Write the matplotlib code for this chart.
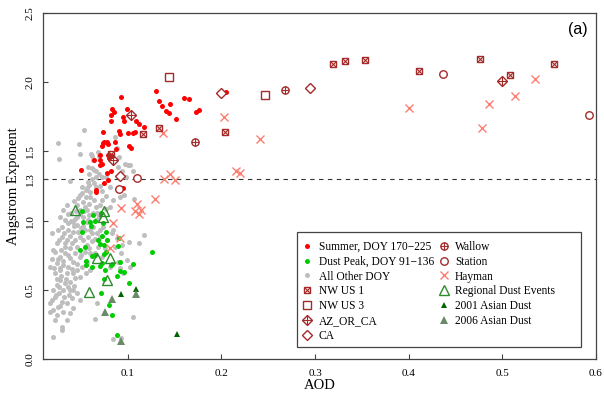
import matplotlib
matplotlib.use("Agg")
import matplotlib.pyplot as plt
from matplotlib.lines import Line2D
from matplotlib.patches import Rectangle

plt.rcParams['font.family'] = ['Liberation Serif', 'DejaVu Serif']

# --- data (AOD, Angstrom exponent) ---
summer_aod = [0.0925, 0.130, 0.1333, 0.1362, 0.1448, 0.1405, 0.144, 0.1515, 0.1597, 0.1657,
              0.1725, 0.1764, 0.0833, 0.0822, 0.0847, 0.0819, 0.0989, 0.0947, 0.0957, 0.1082,
              0.112, 0.117, 0.0737, 0.0901, 0.0918, 0.0997, 0.1053, 0.0865, 0.1014, 0.1039,
              0.0733, 0.0747, 0.0776, 0.079, 0.072, 0.0872, 0.0698, 0.0641, 0.0705, 0.0783,
              0.0801, 0.0833, 0.0726, 0.0701, 0.0773, 0.0822, 0.0499, 0.079, 0.0747, 0.0656,
              0.0662, 0.095, 0.2052, 0.1081]
summer_ae = [1.895, 1.939, 1.866, 1.830, 1.840, 1.792, 1.775, 1.732, 1.886, 1.879,
             1.782, 1.799, 1.809, 1.761, 1.785, 1.717, 1.806, 1.749, 1.717, 1.717,
             1.700, 1.674, 1.640, 1.650, 1.626, 1.631, 1.631, 1.568, 1.539, 1.527,
             1.563, 1.568, 1.568, 1.551, 1.541, 1.515, 1.476, 1.440, 1.436, 1.472,
             1.455, 1.465, 1.411, 1.400, 1.342, 1.358, 1.368, 1.296, 1.269, 1.221,
             1.209, 1.233, 1.927, 1.640]

dust_aod = [0.0513, 0.0627, 0.0712, 0.0595, 0.0517, 0.0609, 0.0651, 0.073, 0.0762, 0.0513,
            0.0726, 0.0773, 0.0677, 0.0701, 0.0747, 0.0901, 0.0893, 0.0545, 0.0485, 0.0769,
            0.0747, 0.0619, 0.0648, 0.0555, 0.0552, 0.0616, 0.0698, 0.0726, 0.0819, 0.0829,
            0.0912, 0.1053, 0.0755, 0.0912, 0.0954, 0.0883, 0.0744, 0.1011, 0.0715, 0.1263,
            0.0794, 0.0826, 0.0880]
dust_ae = [1.069, 1.040, 1.057, 0.990, 0.988, 0.961, 0.997, 0.980, 0.920, 0.915,
           0.887, 0.858, 0.862, 0.831, 0.821, 0.877, 0.819, 0.807, 0.788, 0.771,
           0.761, 0.747, 0.754, 0.710, 0.679, 0.662, 0.672, 0.691, 0.679, 0.689,
           0.701, 0.689, 0.643, 0.636, 0.626, 0.600, 0.576, 0.547, 0.477, 0.773,
           0.388, 0.318, 0.176]

other_aod = [0.0257, 0.0268, 0.0478, 0.0534, 0.0492, 0.0602, 0.0613, 0.0627, 0.0687, 0.0677,
             0.0570, 0.0620, 0.0641, 0.0584, 0.0687, 0.0662, 0.0662, 0.0719, 0.0381, 0.0513,
             0.0577, 0.0566, 0.0641, 0.0698, 0.0719, 0.0765, 0.0897, 0.0911, 0.0858, 0.0879,
             0.1000, 0.1028, 0.0968, 0.0943, 0.1057, 0.0979, 0.0808, 0.0879, 0.0915, 0.0964,
             0.1071, 0.0844, 0.0765, 0.0726, 0.0808, 0.0701, 0.0769, 0.0659, 0.0634, 0.0595,
             0.0552, 0.0488, 0.0524, 0.0453, 0.0488, 0.0542, 0.0584, 0.0566, 0.0623, 0.0666,
             0.0691, 0.0655, 0.0577, 0.0524, 0.0453, 0.0392, 0.0346, 0.0310, 0.0275, 0.0328,
             0.0363, 0.0417, 0.0453, 0.0499, 0.0542, 0.0595, 0.0630, 0.0666, 0.0701, 0.0737,
             0.0701, 0.0645, 0.0684, 0.0648, 0.0719, 0.0755, 0.0780, 0.0829, 0.0844, 0.0879,
             0.0861, 0.0943, 0.0932, 0.0897, 0.0915, 0.0986, 0.1011, 0.1171, 0.1121, 0.0193,
             0.0204, 0.0239, 0.0257, 0.0292, 0.0321, 0.0346, 0.0328, 0.0381, 0.0417, 0.0399,
             0.0453, 0.0488, 0.0524, 0.0566, 0.0542, 0.0595, 0.0488, 0.0435, 0.0381, 0.0328,
             0.0275, 0.0239, 0.0211, 0.0168, 0.0222, 0.0275, 0.0310, 0.0363, 0.0410, 0.0453,
             0.0506, 0.0559, 0.0595, 0.0552, 0.0488, 0.0435, 0.0381, 0.0328, 0.0275, 0.0239,
             0.0204, 0.0186, 0.0222, 0.0268, 0.0310, 0.0363, 0.0410, 0.0453, 0.0488, 0.0399,
             0.0346, 0.0292, 0.0257, 0.0204, 0.0168, 0.0247, 0.0310, 0.0381, 0.0346, 0.0292,
             0.0222, 0.0168, 0.0666, 0.0652, 0.0932, 0.0844, 0.1050, 0.0950, 0.1021, 0.0808,
             0.0417, 0.0204, 0.0292, 0.030, 0.036, 0.042, 0.027, 0.033, 0.038, 0.044,
             0.047, 0.029, 0.025, 0.031, 0.036, 0.041, 0.046, 0.035, 0.029, 0.024,
             0.040, 0.052, 0.056, 0.049, 0.044, 0.039, 0.036, 0.053, 0.058, 0.045,
             0.042, 0.047, 0.051, 0.055, 0.060, 0.062, 0.058, 0.066, 0.050, 0.055,
             0.058, 0.062, 0.062, 0.057, 0.028, 0.022, 0.019, 0.034, 0.038, 0.026,
             0.023, 0.032, 0.028, 0.037, 0.043]
other_ae = [1.563, 1.443, 1.551, 1.657, 1.481, 1.481, 1.469, 1.438, 1.469, 1.498,
            1.390, 1.382, 1.366, 1.339, 1.339, 1.358, 1.317, 1.317, 1.286, 1.245,
            1.281, 1.233, 1.269, 1.252, 1.214, 1.317, 1.390, 1.462, 1.606, 1.522,
            1.404, 1.404, 1.409, 1.361, 1.361, 1.317, 1.245, 1.226, 1.173, 1.185,
            1.156, 1.149, 1.178, 1.149, 1.101, 1.113, 1.084, 1.101, 1.149, 1.173,
            1.173, 1.185, 1.137, 1.113, 1.077, 1.101, 1.120, 1.077, 1.053, 1.053,
            1.024, 1.004, 1.004, 1.028, 1.028, 1.053, 1.113, 1.077, 1.028, 1.004,
            0.980, 0.987, 0.968, 0.947, 0.932, 0.932, 0.956, 0.908, 0.932, 0.956,
            0.884, 0.867, 0.812, 0.763, 0.739, 0.800, 0.860, 0.908, 0.932, 0.872,
            0.812, 0.824, 0.763, 0.703, 0.660, 0.715, 0.843, 0.896, 0.841, 0.913,
            0.788, 0.836, 0.932, 0.956, 0.908, 0.860, 0.812, 0.889, 0.920, 0.836,
            0.812, 0.879, 0.860, 0.824, 0.776, 0.763, 0.739, 0.763, 0.727, 0.763,
            0.739, 0.691, 0.655, 0.667, 0.619, 0.643, 0.679, 0.667, 0.619, 0.643,
            0.667, 0.691, 0.643, 0.619, 0.595, 0.583, 0.559, 0.547, 0.571, 0.535,
            0.499, 0.426, 0.450, 0.474, 0.499, 0.523, 0.499, 0.474, 0.426, 0.438,
            0.402, 0.414, 0.378, 0.354, 0.342, 0.318, 0.342, 0.330, 0.282, 0.210,
            0.282, 0.402, 0.402, 0.287, 0.149, 0.142, 0.306, 0.619, 0.667, 0.667,
            0.366, 0.161, 0.234, 0.88, 0.93, 0.96, 0.86, 0.84, 0.80, 0.86,
            0.92, 0.79, 0.72, 0.71, 0.75, 0.70, 0.69, 0.62, 0.60, 0.58,
            0.65, 0.96, 0.99, 1.05, 1.01, 1.00, 1.05, 1.07, 1.04, 1.07,
            1.14, 1.16, 1.20, 1.22, 1.21, 1.30, 1.26, 1.24, 0.75, 0.71,
            0.80, 0.85, 0.91, 0.88, 0.66, 0.77, 0.72, 0.58, 0.50, 0.52,
            0.46, 0.45, 0.38, 0.46, 0.53]

nwus1_aod = [0.3196, 0.3317, 0.353, 0.411, 0.476, 0.508, 0.5556, 0.2034, 0.1163, 0.1338, 0.0816]
nwus1_ae = [2.134, 2.151, 2.163, 2.079, 2.170, 2.050, 2.129, 1.640, 1.623, 1.671, 1.481]

nwus3_aod = [0.1437, 0.2464]
nwus3_ae = [2.035, 1.905]

azorca_aod = [0.1029, 0.5001, 0.0837]
azorca_ae = [1.765, 2.006, 1.438]

ca_aod = [0.0918, 0.1991, 0.2944]
ca_ae = [1.320, 1.920, 1.958]

wallow_aod = [0.1714, 0.2677]
wallow_ae = [1.566, 1.946]

station_aod = [0.1103, 0.0907, 0.4369, 0.5922]
station_ae = [1.310, 1.228, 2.057, 1.765]

hayman_aod = [0.1373, 0.1384, 0.1448, 0.1508, 0.1288, 0.1093, 0.1078, 0.1114, 0.1142, 0.0922,
              0.0837, 0.0918, 0.0808, 0.2027, 0.2407, 0.2159, 0.2194, 0.3999, 0.4781, 0.4859,
              0.5133, 0.5353]
hayman_ae = [1.631, 1.303, 1.334, 1.293, 1.154, 1.120, 1.069, 1.048, 1.077, 1.089,
             0.985, 0.872, 0.800, 1.751, 1.587, 1.361, 1.346, 1.814, 1.667, 1.842,
             1.898, 2.023]

regional_aod = [0.0435, 0.0747, 0.0733, 0.0666, 0.0808, 0.0773, 0.0587]
regional_ae = [1.077, 1.072, 1.024, 0.732, 0.732, 0.573, 0.482]

asian01_aod = [0.0925, 0.1089, 0.153]
asian01_ae = [0.467, 0.503, 0.178]

asian06_aod = [0.0829, 0.0752, 0.0925, 0.1089]
asian06_ae = [0.431, 0.340, 0.132, 0.470]

# colours
c_red = '#FF0000'
c_green = '#00CD00'
c_grey = '#BEBEBE'
c_brown = '#A52A2A'
c_salmon = '#FA8072'
c_regional = '#2E8B2E'
c_a01 = '#006400'
c_a06 = '#698B69'

fig = plt.figure(figsize=(6.04, 3.93), dpi=100)
ax = fig.add_axes([43 / 604, 34 / 393, 553 / 604, 346 / 393])

ax.axhline(1.3, color='#333333', lw=0.8, ls=(0, (4, 4)), zorder=1)

dot = dict(linestyle='none', marker='o', markersize=3.6, markeredgewidth=0)
ax.plot(other_aod, other_ae, color=c_grey, zorder=2, **dot)
ax.plot(dust_aod, dust_ae, color=c_green, zorder=3, **dot)
ax.plot(summer_aod, summer_ae, color=c_red, zorder=3, **dot)

ax.plot(hayman_aod, hayman_ae, ls='none', marker='x', ms=5.8, mew=1.0, color=c_salmon, zorder=4)
ax.plot(regional_aod, regional_ae, ls='none', marker='^', ms=6.5, mew=1.0, mfc='none', mec=c_regional, zorder=4)
ax.plot(asian01_aod, asian01_ae, ls='none', marker='^', ms=4.8, mew=0, color=c_a01, zorder=4)
ax.plot(asian06_aod, asian06_ae, ls='none', marker='^', ms=6.2, mew=0, color=c_a06, zorder=4)

# square with a cross inside
ax.plot(nwus1_aod, nwus1_ae, ls='none', marker='s', ms=4.8, mew=1.0, mfc='none', mec=c_brown, zorder=5)
ax.plot(nwus1_aod, nwus1_ae, ls='none', marker='x', ms=4.8, mew=0.8, color=c_brown, zorder=5)
ax.plot(nwus3_aod, nwus3_ae, ls='none', marker='s', ms=5.2, mew=1.0, mfc='white', mec=c_brown, zorder=5)
# diamond with a plus
ax.plot(azorca_aod, azorca_ae, ls='none', marker='D', ms=4.6, mew=1.0, mfc='none', mec=c_brown, zorder=5)
ax.plot(azorca_aod, azorca_ae, ls='none', marker='+', ms=7.0, mew=0.8, color=c_brown, zorder=5)
ax.plot(ca_aod, ca_ae, ls='none', marker='D', ms=4.6, mew=1.0, mfc='white', mec=c_brown, zorder=5)
# circle with a plus
ax.plot(wallow_aod, wallow_ae, ls='none', marker='o', ms=5.2, mew=1.0, mfc='white', mec=c_brown, zorder=5)
ax.plot(wallow_aod, wallow_ae, ls='none', marker='+', ms=5.2, mew=0.8, color=c_brown, zorder=5)
ax.plot(station_aod, station_ae, ls='none', marker='o', ms=5.4, mew=1.0, mfc='white', mec=c_brown, zorder=5)

ax.set_xlim(0.0094, 0.6)
ax.set_ylim(0, 2.5)
ax.set_xticks([0.1, 0.2, 0.3, 0.4, 0.5, 0.6])
ax.set_xticklabels(['0.1', '0.2', '0.3', '0.4', '0.5', '0.6'])
ax.set_yticks([0, 0.5, 1.0, 1.3, 1.5, 2.0, 2.5])
ax.set_yticklabels(['0.0', '0.5', '1.0', '1.3', '1.5', '2.0', '2.5'], rotation=90, va='center')
ax.tick_params(direction='in', length=3.5, width=0.8, color='#444444', labelsize=8)
ax.tick_params(axis='x', pad=7)
ax.tick_params(axis='y', pad=6)
for s in ax.spines.values():
    s.set_color('#444444')
    s.set_linewidth(0.9)

ax.set_xlabel('AOD', fontsize=10.5, labelpad=1)
ax.set_ylabel('Angstrom Exponent', fontsize=10.5, labelpad=4)

ax.text(0.985, 0.975, '(a)', transform=ax.transAxes, ha='right', va='top',
        fontsize=11.5, family=['Liberation Sans', 'DejaVu Sans'])

# legend
def mk(**kw):
    return Line2D([], [], ls='none', **kw)

handles = [
    mk(marker='o', ms=3.6, mew=0, color=c_red),
    mk(marker='o', ms=3.6, mew=0, color=c_green),
    mk(marker='o', ms=3.6, mew=0, color=c_grey),
    (mk(marker='s', ms=4.8, mew=1.0, mfc='none', mec=c_brown),
     mk(marker='x', ms=4.8, mew=0.8, color=c_brown)),
    mk(marker='s', ms=5.2, mew=1.0, mfc='white', mec=c_brown),
    (mk(marker='D', ms=4.6, mew=1.0, mfc='none', mec=c_brown),
     mk(marker='+', ms=7.0, mew=0.8, color=c_brown)),
    mk(marker='D', ms=4.6, mew=1.0, mfc='white', mec=c_brown),
    (mk(marker='o', ms=5.2, mew=1.0, mfc='white', mec=c_brown),
     mk(marker='+', ms=5.2, mew=0.8, color=c_brown)),
    mk(marker='o', ms=5.4, mew=1.0, mfc='white', mec=c_brown),
    mk(marker='x', ms=5.8, mew=1.0, color=c_salmon),
    mk(marker='^', ms=6.5, mew=1.0, mfc='none', mec=c_regional),
    mk(marker='^', ms=4.8, mew=0, color=c_a01),
    mk(marker='^', ms=6.2, mew=0, color=c_a06),
]
labels = ['Summer, DOY 170\u2212225', 'Dust Peak, DOY 91\u2212136', 'All Other DOY',
          'NW US 1', 'NW US 3', 'AZ_OR_CA', 'CA',
          'Wallow', 'Station', 'Hayman', 'Regional Dust Events',
          '2001 Asian Dust', '2006 Asian Dust']

leg = ax.legend(handles, labels, ncol=2, loc='upper left',
                bbox_to_anchor=(0.4566, 0.3584), borderaxespad=0,
                fontsize=8.3, handlelength=1.0, handletextpad=0.5,
                columnspacing=0.35, labelspacing=0.25, borderpad=0.5,
                frameon=False)

# legend box drawn like R's, a little wider than its content
ax.add_patch(Rectangle((0.4593, 0.0347), 0.5136, 0.3324, transform=ax.transAxes,
                       fill=False, edgecolor='#444444', lw=0.9, zorder=6))

fig.savefig('out.png', dpi=100)
